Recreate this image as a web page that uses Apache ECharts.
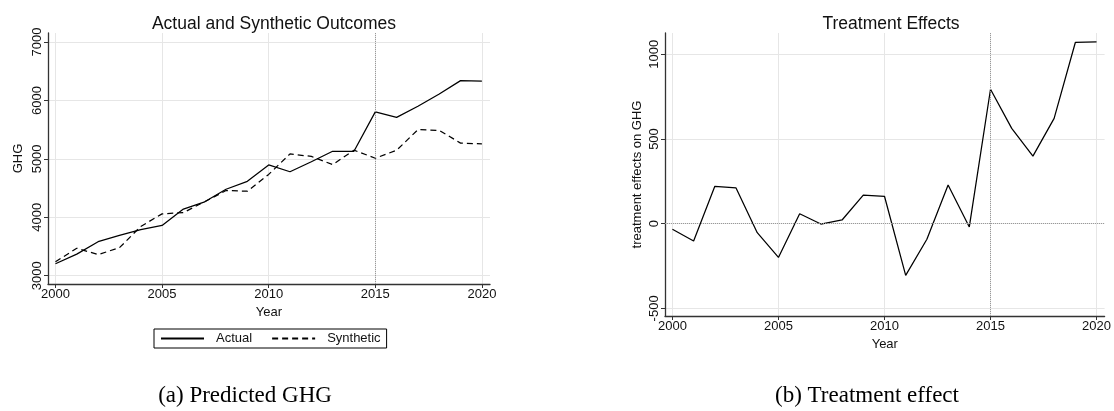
<!DOCTYPE html>
<html><head><meta charset="utf-8">
<script src="https://cdn.jsdelivr.net/npm/echarts@6/dist/echarts.min.js"></script>
<style>html,body{margin:0;padding:0;background:#fff}#c{width:1114px;height:411px}</style>
</head><body><div id="c"></div>
<script>
const years = [2000,2001,2002,2003,2004,2005,2006,2007,2008,2009,2010,2011,2012,2013,2014,2015,2016,2017,2018,2019,2020];
const actual = [3205,3370,3582,3690,3790,3860,4140,4265,4480,4615,4896,4780,4950,5130,5130,5805,5710,5900,6110,6340,6330];
const synthetic = [3238,3470,3361,3479,3843,4059,4081,4267,4458,4446,4734,5085,5042,4902,5149,5011,5147,5501,5488,5270,5256];
const effect = [-33,-102,221,211,-53,-199,59,-2,22,169,162,-305,-92,228,-19,794,563,399,622,1070,1074];
const xTicks = [2000,2005,2010,2015,2020];
const yTicksLeft = [3000,4000,5000,6000,7000];
const yTicksRight = [-500,0,500,1000];
const treatYear = 2015;

const FONT = '"Liberation Sans", Arial, sans-serif';
const SERIF = '"Liberation Serif", "Times New Roman", serif';
const chart = echarts.init(document.getElementById('c'), null, {renderer:'canvas'});

function xAx(gi){
  return {type:'value', gridIndex:gi, min:1999.65, max:2020.38,
    axisLine:{show:true, onZero:false, lineStyle:{color:'#333', width:1.3}},
    axisTick:{show:true, length:4, customValues:xTicks, lineStyle:{color:'#333'}},
    axisLabel:{customValues:xTicks, fontSize:13, color:'#111', margin:4, fontFamily:FONT, formatter:v=>String(v)},
    splitLine:{show:true, lineStyle:{color:'#e6e6e6', width:1}},
    name:'Year', nameLocation:'middle', nameGap:21,
    nameTextStyle:{fontSize:13, color:'#111', fontFamily:FONT}};
}
function yAx(gi, ticks, mn, mx, name, gap){
  return {type:'value', gridIndex:gi, min:mn, max:mx,
    axisLine:{show:true, onZero:false, lineStyle:{color:'#333', width:1.3}},
    axisTick:{show:true, length:4, customValues:ticks, lineStyle:{color:'#333'}},
    axisLabel:{customValues:ticks, rotate:90, fontSize:13, color:'#111', margin:4, fontFamily:FONT, formatter:v=>String(v)},
    splitLine:{show:true, lineStyle:{color:'#e6e6e6', width:1}},
    name:name, nameLocation:'middle', nameGap:gap, nameRotate:90,
    nameTextStyle:{fontSize:13, color:'#111', fontFamily:FONT}};
}
const dotted = {color:'#999', type:'dotted', width:1};

chart.setOption({
  animation:false,
  title:[
    {text:'Actual and Synthetic Outcomes', left:269, top:10, textAlign:'center',
     textStyle:{fontSize:17.5, fontWeight:'normal', color:'#111', fontFamily:FONT}},
    {text:'Treatment Effects', left:886, top:10, textAlign:'center',
     textStyle:{fontSize:17.5, fontWeight:'normal', color:'#111', fontFamily:FONT}}
  ],
  grid:[
    {left:48, top:33, right:624, bottom:127, containLabel:false},
    {left:665, top:33, right:6, bottom:95, containLabel:false}
  ],
  xAxis:[xAx(0), xAx(1)],
  yAxis:[yAx(0, yTicksLeft, 2858, 7155, 'GHG', 23), yAx(1, yTicksRight, -545, 1126, 'treatment effects on GHG', 21)],
  legend:{left:154, top:329, orient:'horizontal', data:['Actual','Synthetic'],
    borderColor:'#000', borderWidth:1, borderRadius:0, padding:[3,6,3,6],
    itemWidth:43, itemHeight:14, itemGap:19,
    itemStyle:{color:'rgba(0,0,0,0)', borderColor:'rgba(0,0,0,0)', borderWidth:0},
    textStyle:{fontSize:13, color:'#111', fontFamily:FONT, padding:[0,0,0,7]}},
  series:[
    {name:'Actual', type:'line', xAxisIndex:0, yAxisIndex:0, symbol:'none',
     data:years.map((y,i)=>[y, actual[i]]),
     lineStyle:{color:'#000', width:1.25}, itemStyle:{color:'#000'},
     markLine:{silent:true, symbol:'none', label:{show:false}, lineStyle:dotted, data:[{xAxis:treatYear}]}},
    {name:'Synthetic', type:'line', xAxisIndex:0, yAxisIndex:0, symbol:'none',
     data:years.map((y,i)=>[y, synthetic[i]]),
     lineStyle:{color:'#000', width:1.25, type:[6,4]}, itemStyle:{color:'#000'}},
    {name:'Effect', type:'line', xAxisIndex:1, yAxisIndex:1, symbol:'none',
     data:years.map((y,i)=>[y, effect[i]]),
     lineStyle:{color:'#000', width:1.25}, itemStyle:{color:'#000'},
     markLine:{silent:true, symbol:'none', label:{show:false}, lineStyle:dotted, data:[{xAxis:treatYear},{yAxis:0}]}}
  ],
  graphic:[
    {type:'text', x:245, y:396, style:{text:'(a) Predicted GHG', font:'23px '+SERIF, fill:'#000', align:'center', verticalAlign:'middle'}},
    {type:'text', x:867, y:396, style:{text:'(b) Treatment effect', font:'23px '+SERIF, fill:'#000', align:'center', verticalAlign:'middle'}}
  ]
});
</script></body></html>
